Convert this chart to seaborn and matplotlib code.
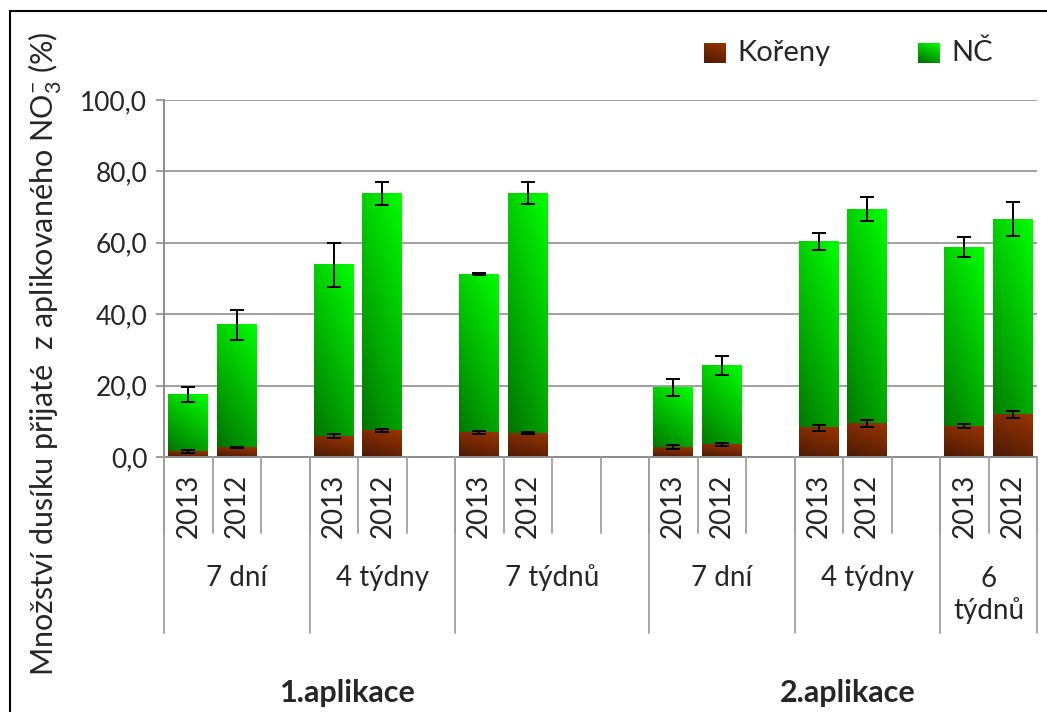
import numpy as np
import pandas as pd
import matplotlib
matplotlib.use("Agg")
import matplotlib.pyplot as plt
import matplotlib.transforms as mtransforms
import seaborn as sns
from matplotlib.colors import LinearSegmentedColormap
from matplotlib.lines import Line2D

# data
years = ["2013", "2012"] * 6
bar_slots = [0, 1, 3, 4, 6, 7, 10, 11, 13, 14, 16, 17]   # empty slots separate the terms
n_slots = 18
total = [17.5, 37.0, 53.8, 73.8, 51.2, 73.9, 19.5, 25.6, 60.4, 69.4, 58.8, 66.6]
total_err = [2.2, 4.2, 6.1, 3.1, 0.3, 3.1, 2.4, 2.7, 2.3, 3.3, 2.7, 4.7]
roots = [1.6, 2.7, 5.8, 7.4, 6.9, 6.7, 2.8, 3.5, 8.2, 9.4, 8.6, 11.9]
roots_err = [0.4, 0.2, 0.6, 0.5, 0.4, 0.2, 0.5, 0.5, 0.9, 1.1, 0.6, 0.9]
terms = ["7 dní", "4 týdny", "7 týdnů", "7 dní", "4 týdny", "6\ntýdnů"]
term_slots = [3, 3, 4, 3, 3, 2]
applications = ["1.aplikace", "2.aplikace"]
legend_labels = ["Kořeny", "NČ"]
yticks = [0, 20, 40, 60, 80, 100]

sns.set_style("white")
plt.rcParams["font.family"] = ["Lato", "DejaVu Sans"]
plt.rcParams["mathtext.fontset"] = "custom"
plt.rcParams["mathtext.rm"] = "Lato"
plt.rcParams["mathtext.it"] = "Lato"

W, H = 1047, 712
fig = plt.figure(figsize=(W / 100, H / 100), dpi=100)
ax = fig.add_axes([164 / W, 1 - 457 / H, (1037 - 164) / W, (457 - 100) / H])

slot_names = [f"s{i}" for i in range(n_slots)]
df = pd.DataFrame({
    "slot": [slot_names[i] for i in bar_slots],
    "year": years,
    "total": total,
    "roots": roots,
})

GREEN = ("#006a00", "#00ff00")
BROWN = ("#4a1a05", "#9a3400")


def gradient_image(target, extent, c0, c1, zorder=2):
    gx, gy = np.meshgrid(np.linspace(0, 1, 30), np.linspace(0, 1, 200))
    t = 0.3 * gx + 0.7 * gy
    cmap = LinearSegmentedColormap.from_list("grad", [c0, c1])
    target.imshow(t, cmap=cmap, vmin=0, vmax=1, origin="lower", aspect="auto",
                  extent=extent, zorder=zorder, interpolation="bilinear")


def gradient_fill(patch, c0, c1):
    x0, y0 = patch.get_x(), patch.get_y()
    w, h = patch.get_width(), patch.get_height()
    if h <= 0:
        return
    gradient_image(ax, [x0, x0 + w, y0, y0 + h], c0, c1)
    patch.set_facecolor("none")
    patch.set_edgecolor("none")


n_before = len(ax.patches)
sns.barplot(data=df, x="slot", y="total", order=slot_names, width=0.82,
            color=GREEN[1], errorbar=None, ax=ax)
green_patches = ax.patches[n_before:]
n_before = len(ax.patches)
sns.barplot(data=df, x="slot", y="roots", order=slot_names, width=0.82,
            color=BROWN[1], errorbar=None, ax=ax)
brown_patches = ax.patches[n_before:]

for p in green_patches:
    gradient_fill(p, *GREEN)
for p in brown_patches:
    gradient_fill(p, *BROWN)

ax.errorbar(bar_slots, total, yerr=total_err, fmt="none", ecolor="black",
            elinewidth=1.4, capsize=5, capthick=1.4, zorder=4)
ax.errorbar(bar_slots, roots, yerr=roots_err, fmt="none", ecolor="black",
            elinewidth=1.4, capsize=5, capthick=1.4, zorder=4)

ax.set_xlim(-0.5, n_slots - 0.5)
ax.set_ylim(0, 100)
ax.set_yticks(yticks)
ax.set_yticklabels([f"{v:.1f}".replace(".", ",") for v in yticks], fontsize=19)
ax.set_xticks([])
ax.set_xlabel("")
ax.set_ylabel("")
ax.grid(axis="y", color="#a0a0a0", lw=1.4, zorder=0)
ax.set_axisbelow(True)
for s in ["top", "right"]:
    ax.spines[s].set_visible(False)
for s in ["left", "bottom"]:
    ax.spines[s].set_color("#8c8c8c")
    ax.spines[s].set_linewidth(1.4)
ax.tick_params(axis="y", length=6, width=1.2, color="#8c8c8c", pad=6, left=True)

# multi-level category axis
tr = mtransforms.blended_transform_factory(ax.transData, fig.transFigure)


def fy(py):
    return 1 - py / H


line_kw = dict(color="#a0a0a0", lw=1.3, transform=tr, clip_on=False)
for k in range(n_slots + 1):
    fig.add_artist(Line2D([k - 0.5, k - 0.5], [fy(457), fy(533)], **line_kw))
for i, y in zip(bar_slots, years):
    fig.text(i, fy(506), y, transform=tr, rotation=90, ha="center", va="center", fontsize=20)

start = -0.5
for term, n in zip(terms, term_slots):
    fig.add_artist(Line2D([start, start], [fy(457), fy(633)], **line_kw))
    ypos = fy(595) if "\n" in term else fy(578)
    fig.text(start + n / 2, ypos, term, transform=tr, ha="center", va="center",
             fontsize=20, linespacing=1.2)
    start += n
fig.add_artist(Line2D([start, start], [fy(457), fy(633)], **line_kw))

for label, xpos in zip(applications, [3.3, 13.6]):
    fig.text(xpos, fy(693), label, transform=tr, ha="center", va="center",
             fontsize=22, fontweight="bold")

# y label
fig.text(45 / W, fy(354), "Množství dusíku přijaté  z aplikovaného NO$_3^{-}$ (%)",
         rotation=90, ha="center", va="center", fontsize=22)

# legend
for (c0, c1), label, px in zip([BROWN, GREEN], legend_labels, [704, 918]):
    lax = fig.add_axes([px / W, fy(63), 22 / W, 20 / H])
    gradient_image(lax, [0, 1, 0, 1], c0, c1)
    lax.set_axis_off()
    fig.text((px + 33) / W, fy(53), label, ha="left", va="center", fontsize=21)

# chart frame
fig.add_artist(Line2D([10 / W, 10 / W], [fy(11), 0], color="black", lw=1.5))
fig.add_artist(Line2D([10 / W, 1], [fy(11), fy(11)], color="black", lw=1.5))

fig.savefig("out.png", dpi=100, facecolor="white")
